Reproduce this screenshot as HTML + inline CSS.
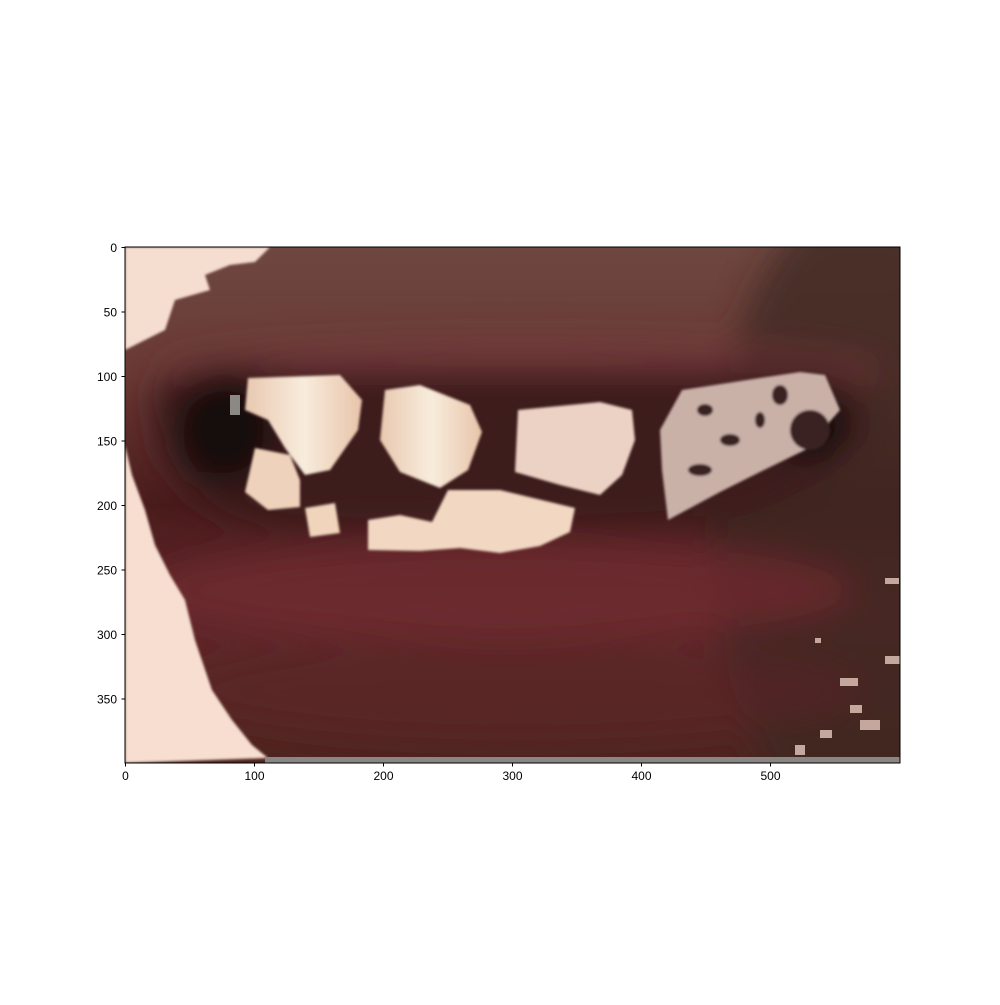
<!DOCTYPE html>
<html><head><meta charset="utf-8"><style>
html,body{margin:0;padding:0;background:#fff;}
svg text{font-family:"Liberation Sans","DejaVu Sans",sans-serif;font-size:12px;fill:#000;}
</style></head><body>
<svg width="1000" height="1000" viewBox="0 0 1000 1000">
<defs>
<clipPath id="ax"><rect x="125" y="247" width="775" height="516"/></clipPath>
<filter id="b8" x="-50%" y="-50%" width="200%" height="200%"><feGaussianBlur stdDeviation="16"/></filter>
<filter id="b1"><feGaussianBlur stdDeviation="1.2"/></filter>
<linearGradient id="bg" x1="0" y1="0" x2="0" y2="1">
<stop offset="0" stop-color="#6e4740"/><stop offset="0.25" stop-color="#6a3a36"/>
<stop offset="0.5" stop-color="#4a1c1c"/><stop offset="0.7" stop-color="#62262a"/>
<stop offset="1" stop-color="#4e2520"/></linearGradient>
<linearGradient id="tooth" x1="0" y1="0" x2="1" y2="0">
<stop offset="0" stop-color="#e8c8b0"/><stop offset="0.5" stop-color="#f8ecdc"/><stop offset="1" stop-color="#e8c4aa"/></linearGradient>
</defs>
<g clip-path="url(#ax)">
<rect x="125" y="247" width="775" height="516" fill="url(#bg)"/>
<g filter="url(#b8)">
<ellipse cx="860" cy="520" rx="150" ry="320" fill="#3e2620" opacity="0.75"/>
<ellipse cx="520" cy="370" rx="360" ry="30" fill="#74363a" opacity="0.6"/>
<ellipse cx="500" cy="590" rx="350" ry="50" fill="#6e2a2f" opacity="0.8"/>
<ellipse cx="520" cy="690" rx="340" ry="50" fill="#5a2426" opacity="0.6"/>
<path d="M150 390 Q200 355 300 370 L820 370 Q880 390 860 440 Q800 510 700 525 L300 530 Q190 520 160 450 Z" fill="#3e1a1b"/>
<ellipse cx="225" cy="430" rx="50" ry="55" fill="#150b0a"/>
<ellipse cx="810" cy="425" rx="38" ry="35" fill="#0e0808"/>
</g>
<path filter="url(#b1)" fill="#f5ddd0" d="M125 247 L270 247 L255 262 L230 265 L205 275 L210 290 L175 300 L165 330 L125 350 Z"/>
<path filter="url(#b1)" fill="#f7ded0" d="M125 445 L132 475 L145 510 L155 545 L170 575 L185 600 L195 640 L212 690 L232 720 L252 745 L268 758 L125 763 Z"/>
<g filter="url(#b1)">
<path fill="url(#tooth)" d="M248 378 L340 375 L362 400 L358 430 L330 470 L305 475 L285 448 L268 420 L245 410 Z"/>
<path fill="url(#tooth)" d="M385 390 L420 385 L470 405 L482 432 L468 470 L440 488 L400 472 L380 440 Z"/>
<path fill="#ecd2c4" d="M518 410 L600 402 L632 410 L635 440 L622 475 L600 495 L560 485 L515 472 Z"/>
<path fill="#efd2bc" d="M255 448 L290 455 L300 480 L300 507 L268 510 L245 492 Z"/>
<path fill="#f0d4bc" d="M305 508 L335 503 L340 533 L310 537 Z"/>
<path fill="#f2d8c2" d="M368 520 L400 515 L432 522 L448 490 L500 490 L575 508 L570 532 L540 546 L500 553 L460 548 L420 551 L368 550 Z"/>
<path fill="#c9b1a8" d="M682 390 L760 378 L800 372 L825 375 L840 410 L805 450 L760 472 L720 492 L668 520 L662 470 L660 430 Z"/>
<g fill="#3a2320">
<ellipse cx="705" cy="410" rx="8" ry="6"/><ellipse cx="730" cy="440" rx="10" ry="6"/>
<ellipse cx="780" cy="395" rx="8" ry="10"/><ellipse cx="700" cy="470" rx="12" ry="6"/>
<ellipse cx="760" cy="420" rx="5" ry="8"/><ellipse cx="810" cy="430" rx="20" ry="20"/>
</g>
</g>
<g fill="#c4a89e">
<rect x="885" y="578" width="14" height="6"/><rect x="815" y="638" width="6" height="5"/>
<rect x="885" y="656" width="15" height="8"/><rect x="840" y="678" width="18" height="8"/>
<rect x="850" y="705" width="12" height="8"/><rect x="820" y="730" width="12" height="8"/>
<rect x="860" y="720" width="20" height="10"/><rect x="795" y="745" width="10" height="10"/>
<rect x="230" y="395" width="10" height="20" fill="#8c8884"/>
</g>
<rect x="265" y="757" width="640" height="6" fill="#8a8684"/>
</g>
<rect x="125" y="247" width="775" height="516" fill="none" stroke="#000" stroke-width="1"/>
<g id="ticks"></g>
<script>
const xTicks=[0,100,200,300,400,500];
const yTicks=[0,50,100,150,200,250,300,350];
const sx=v=>125.5+v*1.29, sy=v=>247.5+v*1.29;
const g=document.getElementById('ticks');
const NS='http://www.w3.org/2000/svg';
xTicks.forEach(v=>{
 const l=document.createElementNS(NS,'line');
 l.setAttribute('x1',sx(v));l.setAttribute('x2',sx(v));l.setAttribute('y1',763);l.setAttribute('y2',766.5);l.setAttribute('stroke','#000');
 
 
 g.appendChild(l);
 const t=document.createElementNS(NS,'text');
 t.setAttribute('x',sx(v));t.setAttribute('y',780);t.setAttribute('text-anchor','middle');t.textContent=v;
 
 
 g.appendChild(t);
});
yTicks.forEach(v=>{
 const l=document.createElementNS(NS,'line');
 l.setAttribute('x1',121.5);l.setAttribute('x2',125);l.setAttribute('y1',sy(v));l.setAttribute('y2',sy(v));l.setAttribute('stroke','#000');
 
 
 g.appendChild(l);
 const t=document.createElementNS(NS,'text');
 t.setAttribute('x',117);t.setAttribute('y',sy(v)+4.5);t.setAttribute('text-anchor','end');t.textContent=v;
 
 
 g.appendChild(t);
});
</script>
</svg>
</body></html>
